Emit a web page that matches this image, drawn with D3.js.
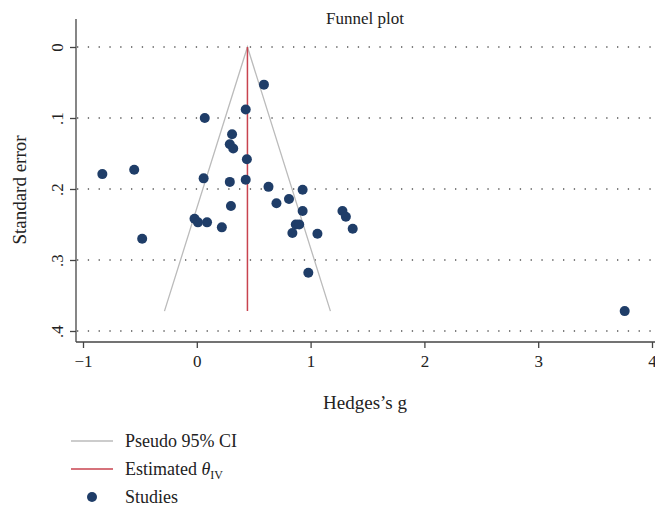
<!DOCTYPE html>
<html><head><meta charset="utf-8">
<script src="https://cdn.jsdelivr.net/npm/d3@7"></script>
<style>body{margin:0;background:#fff}text{font-family:"Liberation Serif",serif;fill:#222}</style>
</head><body><div id="chart"></div>
<script>
// study estimates: Hedges's g and standard error
var gValues = [-0.83,-0.55,-0.48,0.07,0.43,0.59,0.31,0.29,0.32,0.44,0.06,0.29,0.43,0.63,0.93,0.30,0.70,0.81,0.93,1.28,1.31,1.37,-0.02,0.01,0.09,0.22,0.87,0.90,0.84,1.06,0.98,3.76];
var seValues = [0.179,0.173,0.270,0.100,0.088,0.053,0.123,0.137,0.143,0.158,0.185,0.190,0.187,0.197,0.201,0.224,0.220,0.214,0.231,0.231,0.239,0.256,0.242,0.247,0.247,0.254,0.250,0.250,0.262,0.263,0.318,0.372];
var thetaIV = 0.445;
var seMax = 0.372;
var xTicks = [-1,0,1,2,3,4];
var yTicks = [0,0.1,0.2,0.3,0.4];

var W = 655, H = 509;
var svg = d3.select("#chart").append("svg").attr("width", W).attr("height", H);

var x = d3.scaleLinear().domain([-1, 4]).range([83, 652]);
var y = d3.scaleLinear().domain([0, 0.4]).range([47, 331]);

// gridlines
svg.append("g").selectAll("line").data(yTicks).enter().append("line")
  .attr("x1", 77).attr("x2", 655)
  .attr("y1", function(d){ return y(d); }).attr("y2", function(d){ return y(d); })
  .attr("stroke", "#555").attr("stroke-width", 1.3).attr("stroke-dasharray", "1.3,9.5");

// axes
var yAxis = svg.append("g").attr("transform", "translate(76,0)")
  .call(d3.axisLeft(y).tickValues(yTicks).tickSize(6).tickFormat(function(d){ return d === 0 ? "0" : d3.format(".1f")(d).replace(/^0/, ""); }));
yAxis.selectAll("text").attr("transform", function(){ return "rotate(-90)"; })
  .attr("x", 0).attr("y", -19).attr("dy", "0.35em").style("text-anchor", "middle").style("font-size", "17px");
yAxis.select(".domain").attr("d", "M0," + 19 + "V" + 342);

var xAxis = svg.append("g").attr("transform", "translate(0,342)")
  .call(d3.axisBottom(x).tickValues(xTicks).tickSize(6).tickFormat(function(d){ return d < 0 ? "\u2212" + (-d) : d; }));
xAxis.selectAll("text").style("font-size", "17px").attr("dy", "0.95em");
xAxis.select(".domain").attr("d", "M76,0H655");
svg.selectAll(".domain,.tick line").attr("stroke", "#444").attr("stroke-width", 1.3);

// funnel
var lo = thetaIV - 1.96 * seMax, hi = thetaIV + 1.96 * seMax;
svg.append("path")
  .attr("d", "M" + x(lo) + "," + y(seMax) + "L" + x(thetaIV) + "," + y(0) + "L" + x(hi) + "," + y(seMax))
  .attr("fill", "none").attr("stroke", "#bbb").attr("stroke-width", 1.3);
svg.append("line").attr("x1", x(thetaIV)).attr("x2", x(thetaIV)).attr("y1", y(0)).attr("y2", y(seMax))
  .attr("stroke", "#c8434f").attr("stroke-width", 1.5);

// points
svg.append("g").selectAll("circle").data(gValues).enter().append("circle")
  .attr("cx", function(d){ return x(d); })
  .attr("cy", function(d, i){ return y(seValues[i]); })
  .attr("r", 5).attr("fill", "#1f3d68");

// titles
svg.append("text").attr("x", 365).attr("y", 24).attr("text-anchor", "middle").style("font-size", "17px").text("Funnel plot");
svg.append("text").attr("x", 365).attr("y", 409).attr("text-anchor", "middle").style("font-size", "19px").text("Hedges\u2019s g");
svg.append("text").attr("transform", "translate(26,190) rotate(-90)").attr("text-anchor", "middle").style("font-size", "19px").text("Standard error");

// legend
var lg = svg.append("g");
lg.append("line").attr("x1", 71).attr("x2", 113).attr("y1", 441).attr("y2", 441).attr("stroke", "#bbb").attr("stroke-width", 1.3);
lg.append("text").attr("x", 125).attr("y", 447).style("font-size", "18px").text("Pseudo 95% CI");
lg.append("line").attr("x1", 71).attr("x2", 113).attr("y1", 469).attr("y2", 469).attr("stroke", "#c8434f").attr("stroke-width", 1.5);
var t = lg.append("text").attr("x", 125).attr("y", 475).style("font-size", "18px");
t.append("tspan").text("Estimated ");
t.append("tspan").style("font-style", "italic").text("\u03b8");
t.append("tspan").attr("dy", 4).style("font-size", "12px").text("IV");
lg.append("circle").attr("cx", 92).attr("cy", 497).attr("r", 5).attr("fill", "#1f3d68");
lg.append("text").attr("x", 125).attr("y", 503).style("font-size", "18px").text("Studies");
</script></body></html>
